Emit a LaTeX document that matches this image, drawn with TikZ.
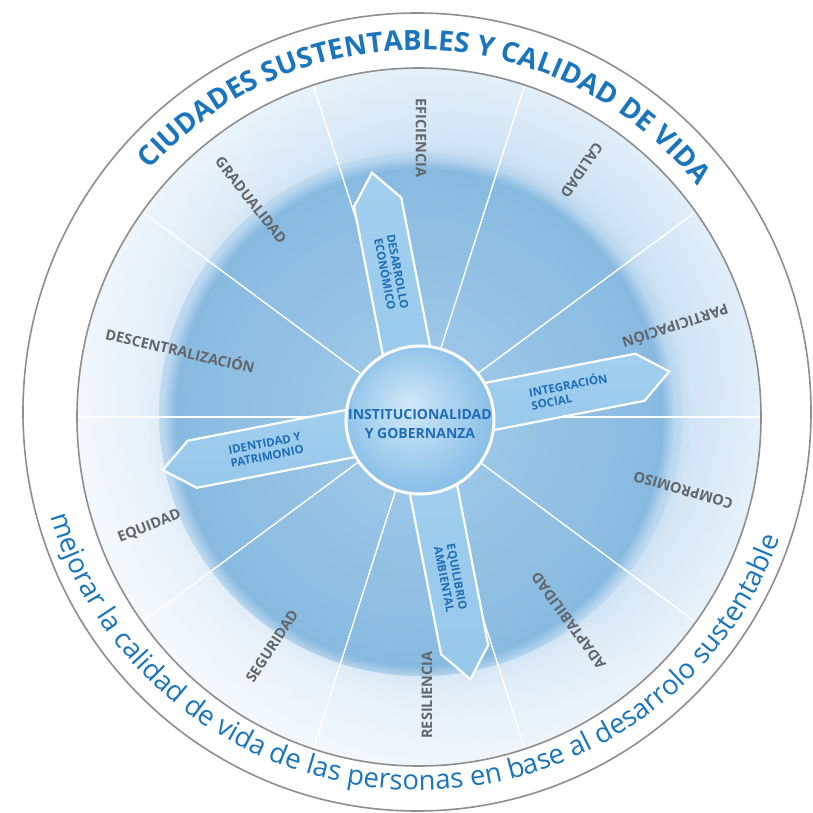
\documentclass[tikz,border=0pt]{standalone}
\usepackage{fontspec}
\setmainfont{Open Sans}
\usetikzlibrary{decorations.text,fadings,shadings,calc}

\definecolor{ringgray}{HTML}{8E8E8E}
\definecolor{titleblue}{HTML}{1B75BC}
\definecolor{labelgray}{HTML}{62666B}
\definecolor{spoketext}{HTML}{1F6DB6}
\definecolor{wcenter}{HTML}{A4CCEA}
\definecolor{wdark}{HTML}{88BAE0}
\definecolor{wmid}{HTML}{BAD7EF}
\definecolor{wlight}{HTML}{CCE2F3}
\definecolor{wedge}{HTML}{E2EFF9}
\definecolor{hubc}{HTML}{D2E9F8}
\definecolor{hube}{HTML}{8CC1E8}
\definecolor{spokeA}{HTML}{A2D0EF}
\definecolor{spokeB}{HTML}{E4F3FC}
\definecolor{spokeC}{HTML}{96C8EA}

\pgfdeclareradialshading{wheelshade}{\pgfpoint{0bp}{0bp}}{%
  color(0bp)=(wcenter); color(17.8bp)=(wdark); color(18.7bp)=(wmid);
  color(20bp)=(wlight); color(25bp)=(wedge); color(40bp)=(wedge)}
\pgfdeclareradialshading{hubshade}{\pgfpoint{-4bp}{5bp}}{%
  color(0bp)=(hubc); color(25bp)=(hube); color(40bp)=(hube)}
\tikzfading[name=lightfade, left color=transparent!35, right color=transparent!100]

\tikzset{
  ringline/.style={draw=ringgray, line width=1.6pt},
  sectorline/.style={draw=white, line width=1.4pt},
  spoke/.style={draw=white, line width=2.2pt, line join=miter,
    top color=spokeA, middle color=spokeB, bottom color=spokeC},
  sectorlabel/.style={text=labelgray, font=\fontsize{14.5}{16}\selectfont\bfseries, inner sep=0pt},
  spokelabel/.style={text=spoketext, font=\fontsize{11.5}{13}\selectfont\bfseries, align=center, inner sep=0pt},
  hublabel/.style={text=spoketext, font=\fontsize{14}{19}\selectfont\bfseries, align=center, inner sep=0pt},
}

\begin{document}
\begin{tikzpicture}[x=1pt,y=1pt]
\useasboundingbox (-421,-399) rectangle (391,414);
\fill[white] (-421,-399) rectangle (391,414);

\coordinate (O) at (0,0);
\coordinate (C) at (-4,2);
\coordinate (T) at (-2,2);
\coordinate (W) at (-2,-3);
\coordinate (H) at (-1,-6);

% outer ring
\draw[ringline] (C) ellipse[x radius=394, y radius=399];

% wheel
\shade[shading=wheelshade] (W) ellipse[x radius=342, y radius=349];
\fill[white, even odd rule, path fading=lightfade, fading angle=40]
  (W) ellipse[x radius=342, y radius=349] (O) circle[radius=262];
\foreach \a in {0,36,...,324} \draw[sectorline] (W) -- ($(W)+(\a:342 and 349)$);
\draw[ringline] (W) ellipse[x radius=342, y radius=349];

% sector labels
\node[sectorlabel, rotate=-90]  (eficiencia) at (90:276)    {EFICIENCIA};
\node[sectorlabel, rotate=-124] (calidad)    at (56.6:292)  {CALIDAD};
\node[sectorlabel, rotate=-162] (particip)   at (18.8:269)  {PARTICIPACIÓN};
\node[sectorlabel, rotate=164]  (compromiso) at (-16.2:273) {COMPROMISO};
\node[sectorlabel, rotate=126]  (adapt)      at (-54.5:254) {ADAPTABILIDAD};
\node[sectorlabel, rotate=90]   (resil)      at (-88.8:281) {RESILIENCIA};
\node[sectorlabel, rotate=57]   (segur)      at (-122.7:276){SEGURIDAD};
\node[sectorlabel, rotate=22]   (equidad)    at (-157.5:294){EQUIDAD};
\node[sectorlabel, rotate=-13]  (descent)    at (165.1:249) {DESCENTRALIZACIÓN};
\node[sectorlabel, rotate=-52]  (gradual)    at (128.5:273) {GRADUALIDAD};

% spokes
\begin{scope}[shift={(H)},rotate=101]
  \path[spoke] (0,-24) -- (222,-24) -- (252,0) -- (222,24) -- (0,24) -- cycle;
\end{scope}
\begin{scope}[shift={(H)},rotate=11]
  \path[spoke] (0,-24) -- (224,-24) -- (254,0) -- (224,24) -- (0,24) -- cycle;
\end{scope}
\begin{scope}[shift={(H)},rotate=191]
  \path[spoke] (0,-24) -- (232,-24) -- (262,0) -- (232,24) -- (0,24) -- cycle;
\end{scope}
\begin{scope}[shift={(H)},rotate=281]
  \path[spoke] (0,-24) -- (234,-24) -- (264,0) -- (234,24) -- (0,24) -- cycle;
\end{scope}

% hub
\node[circle, minimum size=148pt, draw=white, line width=3pt, shading=hubshade] (hub) at (H) {};
\node[hublabel] (hubtext) at ([yshift=-4pt]H) {INSTITUCIONALIDAD\\Y GOBERNANZA};

% spoke labels
\node[spokelabel, rotate=-79] (desarrollo) at ($(H)+(101:150)$) {DESARROLLO\\ECONÓMICO};
\node[spokelabel, rotate=11, align=left] (integracion) at ($(H)+(11:152)$) {INTEGRACIÓN\\SOCIAL};
\node[spokelabel, rotate=11] (identidad) at ($(H)+(191:157)$) {IDENTIDAD Y\\PATRIMONIO};
\node[spokelabel, rotate=-79] (equilibrio) at ($(H)+(281:161)$) {EQUILIBRIO\\AMBIENTAL};

% ring texts
\path[decorate, decoration={text along path, text align=center,
  text={|\fontsize{27.8}{32}\selectfont\bfseries\color{titleblue}|CIUDADES SUSTENTABLES Y CALIDAD DE VIDA}}]
  ($(C)+(148.3:359 and 362)$) arc[start angle=148.3, end angle=28.3, x radius=359, y radius=362];
\path[decorate, decoration={text along path, text align=center,
  text={|\fontsize{27.5}{32}\selectfont\color{titleblue}|mejorar la calidad de vida de las personas en base al desarrolo sustentable}}]
  ($(T)+(196:383 and 378)$) arc[start angle=196, end angle=340.4, x radius=383, y radius=378];
\end{tikzpicture}
\end{document}
